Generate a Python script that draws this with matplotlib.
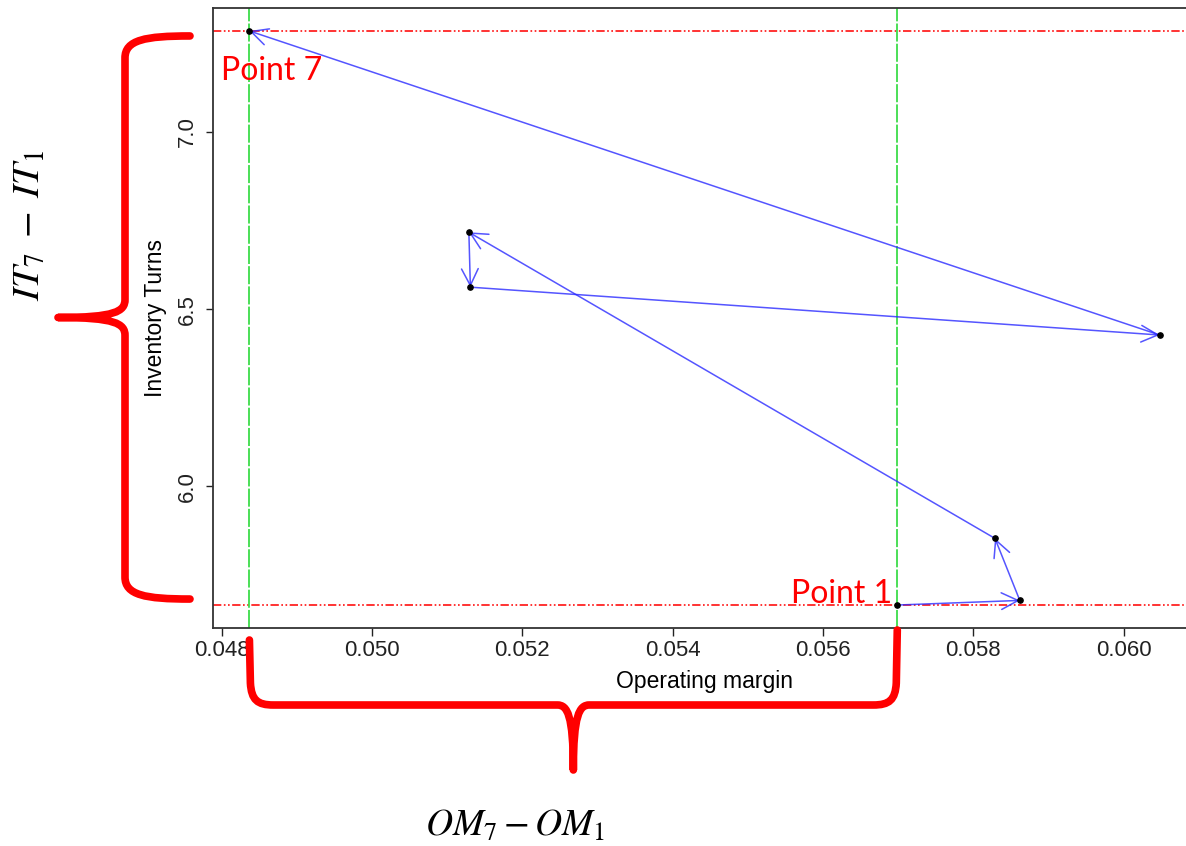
import numpy as np
import matplotlib
matplotlib.use("Agg")
import matplotlib.pyplot as plt
from matplotlib.path import Path
from matplotlib.patches import PathPatch
from matplotlib.transforms import IdentityTransform

# points 1..7 (operating margin, inventory turns)
om = [0.05699, 0.05862, 0.05829, 0.05129, 0.05131, 0.06048, 0.04837]
it = [5.665, 5.678, 5.853, 6.717, 6.562, 6.427, 7.285]
xticks = [0.048, 0.050, 0.052, 0.054, 0.056, 0.058, 0.060]
yticks = [6.0, 6.5, 7.0]
point_labels = ["Point 1", "Point 7"]

plt.rcParams['font.family'] = ['Liberation Sans', 'DejaVu Sans']
plt.rcParams['mathtext.fontset'] = 'stix'

W, H = 1186, 846
fig = plt.figure(figsize=(W / 100, H / 100), dpi=100)
ax = fig.add_axes([213 / W, 1 - 628 / H, 983 / W, 620 / H])

# R style 4% padding
rx = max(om) - min(om)
ry = max(it) - min(it)
ax.set_xlim(min(om) - 0.04 * rx, max(om) + 0.04 * rx)
ax.set_ylim(min(it) - 0.04 * ry, max(it) + 0.04 * ry)

# reference lines at first and last point
for v in (it[0], it[-1]):
    ax.axhline(v, color='#ff1010', lw=1.2, dashes=(5, 1.5, 1, 1.5, 1, 1.5), zorder=1)
for v in (om[0], om[-1]):
    ax.axvline(v, color='#3ddc4a', lw=1.3, dashes=(10, 1.2), zorder=1)

for i in range(len(om) - 1):
    ax.annotate('', xy=(om[i + 1], it[i + 1]), xytext=(om[i], it[i]),
                arrowprops=dict(arrowstyle='->,head_length=1.2,head_width=0.6',
                                color='#2a2aff', alpha=0.8, lw=1.1,
                                shrinkA=0, shrinkB=0, mutation_scale=10))
ax.plot(om, it, 'o', color='black', ms=3.8, zorder=5)

ax.annotate(point_labels[1], xy=(om[-1], it[-1]), xytext=(-28, -49),
            textcoords='offset pixels', ha='left', va='baseline',
            color='red', fontsize=23, family='Lato')
ax.annotate(point_labels[0], xy=(om[0], it[0]), xytext=(-5, 2),
            textcoords='offset pixels', ha='right', va='baseline',
            color='red', fontsize=23, family='Lato')

ax.set_xticks(xticks)
ax.set_xticklabels([f"{t:.3f}" for t in xticks])
ax.set_yticks(yticks)
ax.set_yticklabels([f"{t:.1f}" for t in yticks], rotation=90, va='center')
ax.tick_params(axis='x', length=6, width=1, pad=2.5, labelsize=16, colors='#222222')
ax.tick_params(axis='y', length=5, width=1, pad=6, labelsize=16, colors='#222222')
for s in ax.spines.values():
    s.set_color('#333333')
    s.set_linewidth(1.3)

ax.set_xlabel("Operating margin", fontsize=16.5, va='center')
ax.xaxis.set_label_coords(0.5, -0.087)
ax.set_ylabel("Inventory Turns", fontsize=16.5, va='center')
ax.yaxis.set_label_coords(-0.058, 0.5)

# braces spanning point 7 -> point 1
fig.canvas.draw()
p1 = ax.transData.transform((om[0], it[0]))
p7 = ax.transData.transform((om[-1], it[-1]))

yt, yb = p7[1] - 5, p1[1] + 6
ym = (yt + yb) / 2
xa, xs, xt = 190, 125, 58
vverts = [(xa, yt), (xa - 45, yt), (xs, yt - 4), (xs, yt - 22),
          (xs, ym + 18),
          (xs, ym + 6), (xs - 10, ym), (xt, ym),
          (xs - 10, ym), (xs, ym - 6), (xs, ym - 18),
          (xs, yb + 22),
          (xs, yb + 4), (xa - 45, yb), (xa, yb)]
vcodes = [Path.MOVETO, Path.CURVE4, Path.CURVE4, Path.CURVE4,
          Path.LINETO,
          Path.CURVE4, Path.CURVE4, Path.CURVE4,
          Path.CURVE4, Path.CURVE4, Path.CURVE4,
          Path.LINETO,
          Path.CURVE4, Path.CURVE4, Path.CURVE4]

xl, xr = p7[0], p1[0]
xm = (xl + xr) / 2
ybar, ytip = H - 705, H - 770
yel, yer = H - 640, H - 630
hverts = [(xl, yel), (xl + 1, ybar + 22),
          (xl + 2, ybar + 5), (xl + 8, ybar), (xl + 24, ybar),
          (xm - 16, ybar),
          (xm - 6, ybar), (xm, ybar - 10), (xm, ytip),
          (xm, ybar - 10), (xm + 6, ybar), (xm + 16, ybar),
          (xr - 24, ybar),
          (xr - 8, ybar), (xr - 2, ybar + 5), (xr - 1, ybar + 22),
          (xr, yer)]
hcodes = [Path.MOVETO, Path.LINETO,
          Path.CURVE4, Path.CURVE4, Path.CURVE4,
          Path.LINETO,
          Path.CURVE4, Path.CURVE4, Path.CURVE4,
          Path.CURVE4, Path.CURVE4, Path.CURVE4,
          Path.LINETO,
          Path.CURVE4, Path.CURVE4, Path.CURVE4,
          Path.LINETO]

for verts, codes in ((vverts, vcodes), (hverts, hcodes)):
    patch = PathPatch(Path(verts, codes), facecolor='none', edgecolor='red',
                      lw=5.5, capstyle='round', joinstyle='round',
                      transform=IdentityTransform())
    fig.patches.append(patch)

fig.text(30 / W, 1 - 226 / H, r"$IT_7\;-\;IT_1$", rotation=90,
         ha='center', va='center', fontsize=28)
fig.text(515 / W, 1 - 826 / H, r"$OM_7 - OM_1$",
         ha='center', va='center', fontsize=27)

fig.savefig("out.png", dpi=100)
